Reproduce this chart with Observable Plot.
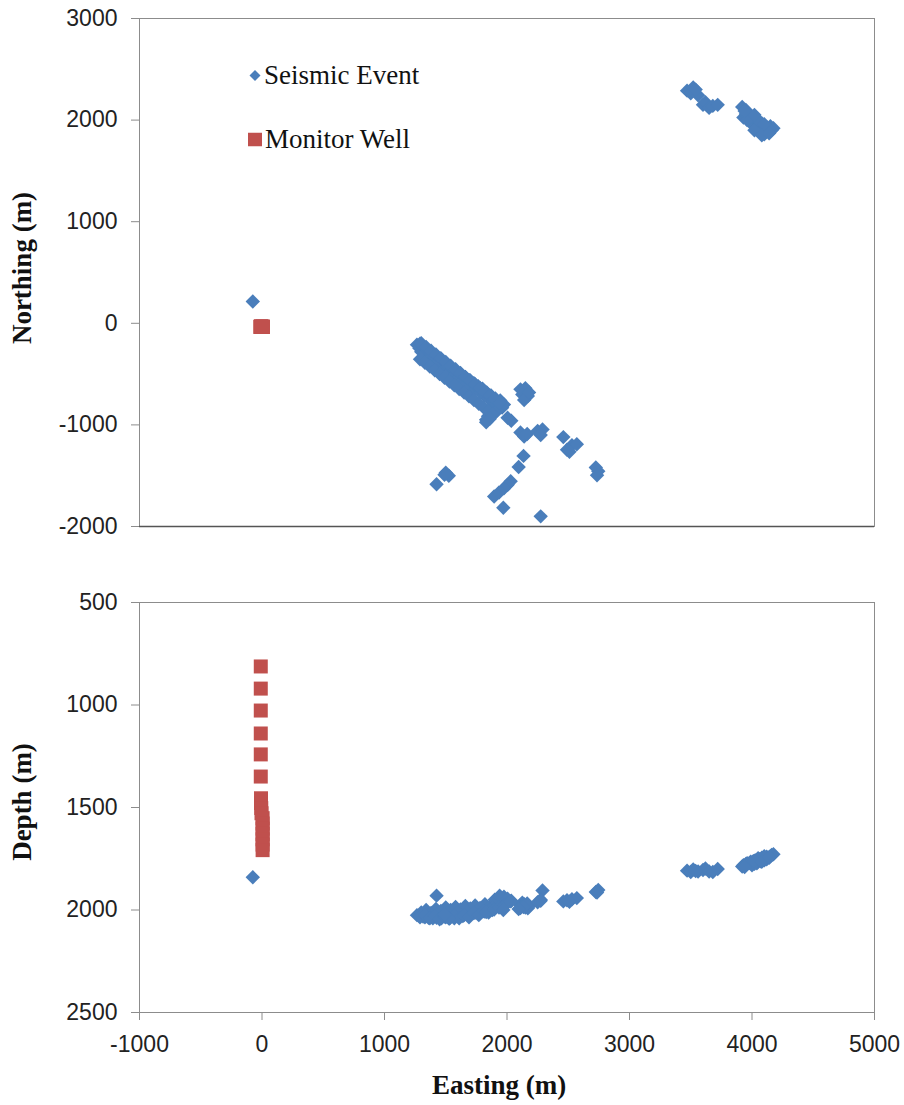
<!DOCTYPE html>
<html>
<head>
<meta charset="utf-8">
<script src="https://cdn.jsdelivr.net/npm/d3@7"></script>
<script src="https://cdn.jsdelivr.net/npm/@observablehq/plot@0.6"></script>
<style>
  html, body { margin: 0; padding: 0; background: #fff; }
  #figure { position: relative; width: 904px; height: 1105px; overflow: hidden; }
  #figure svg { display: block; }
  .axis-title {
    position: absolute;
    font-family: "Liberation Serif", "Times New Roman", serif;
    font-weight: bold;
    font-size: 27px;
    color: #111;
    white-space: nowrap;
    line-height: 1;
  }
  .axis-title.vertical { transform: translate(-50%, -50%) rotate(-90deg); }
  .axis-title.horizontal { transform: translate(-50%, -50%); }
  .legend-item {
    position: absolute;
    display: flex;
    align-items: center;
    font-family: "Liberation Serif", "Times New Roman", serif;
    font-size: 27px;
    color: #111;
    white-space: nowrap;
    line-height: 1;
    transform: translateY(-50%);
  }
  .legend-item svg { margin-right: 3px; }
</style>
</head>
<body>
<div id="figure"></div>
<script>
// Microseismic events: [easting (m), northing (m), depth (m)]
const nearWellEvents = [
  [-75, 215, 1840]
];

const mainBandEvents = [
  [1265, -210, 2025], [1285, -245, 2030], [1300, -280, 2020], [1315, -230, 2032],
  [1330, -300, 2035], [1345, -265, 2015], [1360, -340, 2038], [1380, -310, 2022],
  [1395, -370, 2040], [1410, -335, 2012], [1425, -400, 2038], [1445, -370, 2025],
  [1465, -430, 2040], [1480, -395, 2010], [1500, -455, 2036], [1515, -420, 2020],
  [1535, -480, 2038], [1550, -445, 2005], [1570, -510, 2040], [1590, -475, 2018],
  [1605, -540, 2035], [1625, -505, 2008], [1640, -565, 2030], [1660, -530, 2000],
  [1675, -595, 2022], [1695, -560, 2005], [1710, -625, 2015], [1730, -590, 1995],
  [1745, -650, 2012], [1765, -620, 1998], [1780, -680, 2010], [1800, -645, 1992],
  [1815, -710, 2008], [1835, -680, 1990], [1850, -740, 2005], [1870, -710, 1985],
  [1885, -770, 1995], [1905, -740, 1965], [1925, -790, 1975], [1945, -760, 1940],
  [1960, -830, 1955], [1975, -800, 1935], [1880, -820, 2000], [1860, -870, 1995],
  [1845, -915, 2005], [1830, -950, 1998], [1900, -880, 1980], [1920, -860, 1960],
  [1290, -200, 2028], [1340, -250, 2030],
  // north edge of the band
  [1300, -197, 2012], [1340, -233, 2000], [1380, -270, 2015], [1420, -307, 1995],
  [1460, -343, 2005], [1500, -380, 1988], [1540, -417, 2000], [1580, -453, 1985],
  [1620, -490, 1998], [1660, -527, 1980], [1700, -563, 1992], [1740, -600, 1978],
  [1780, -636, 1990], [1820, -673, 1972], [1860, -710, 1985], [1900, -746, 1950],
  [1940, -783, 1930],
  // south edge of the band
  [1290, -353, 2035], [1330, -389, 2025], [1370, -426, 2040], [1410, -463, 2030],
  [1450, -499, 2045], [1490, -536, 2032], [1530, -572, 2042], [1570, -609, 2028],
  [1610, -646, 2040], [1650, -682, 2025], [1690, -719, 2035], [1730, -756, 2015],
  [1770, -792, 2025], [1810, -829, 2005], [1850, -866, 2012], [1880, -895, 1990],
  [1860, -940, 2000], [1830, -975, 2010]
];

const southScatterEvents = [
  [2110, -650, 1975], [2150, -640, 1988], [2125, -700, 1965], [2170, -715, 1992],
  [2140, -755, 1972], [2180, -680, 1982], [2035, -960, 1955], [2005, -930, 1945],
  [2110, -1075, 1990], [2140, -1115, 1978], [2165, -1090, 1968], [2250, -1060, 1962],
  [2290, -1045, 1905], [2275, -1100, 1950], [2460, -1120, 1958], [2490, -1245, 1952],
  [2530, -1200, 1948], [2570, -1190, 1942], [2510, -1265, 1960], [2725, -1420, 1912],
  [2745, -1455, 1902], [2735, -1495, 1915], [2135, -1305, 1985], [2095, -1415, 1995],
  [1425, -1585, 1930], [1500, -1470, 2030], [1525, -1500, 2040], [1490, -1490, 2022],
  [1895, -1705, 1998], [1935, -1665, 1988], [1975, -1625, 1978], [2005, -1590, 1965],
  [2030, -1555, 1958], [1970, -1815, 2000], [2275, -1900, 1955]
];

const northeastEvents = [
  [3470, 2290, 1808], [3520, 2320, 1802], [3500, 2265, 1815], [3560, 2245, 1812],
  [3600, 2150, 1805], [3620, 2175, 1798], [3650, 2120, 1812], [3680, 2140, 1815],
  [3720, 2150, 1800], [3920, 2130, 1788], [3930, 2025, 1782], [3950, 2060, 1775],
  [3980, 2000, 1770], [4000, 1960, 1782], [4010, 1990, 1762], [4030, 2010, 1758],
  [4040, 1930, 1772], [4060, 1960, 1752], [4070, 1880, 1762], [4080, 1970, 1745],
  [4090, 1910, 1748], [4100, 1860, 1758], [4120, 1930, 1740], [4120, 1890, 1752],
  [4150, 1940, 1738], [4160, 1900, 1732], [4175, 1920, 1728], [3540, 2300, 1810],
  [3950, 2100, 1780], [3990, 2040, 1765], [4020, 1900, 1775], [4050, 2000, 1748],
  [4140, 1910, 1745], [4100, 1960, 1738], [3960, 2000, 1772], [4020, 2050, 1760],
  [4080, 1850, 1765], [4140, 1870, 1742], [3940, 2090, 1790]
];

// Monitor well geophone stations
const wellEasting  = [-10, -10, -10, -10, -10, -10, -8, -8, -6, -4, 5, 5, 5, 5, 5, 5, 5];
const wellNorthing = [-35, -35, -35, -35, -35, -35, -35, -35, -35, -35, -35, -35, -35, -35, -35, -35, -35];
const wellDepth    = [812, 920, 1027, 1139, 1241, 1349, 1455, 1478, 1503, 1528, 1552, 1578, 1603, 1629, 1655, 1681, 1708];

// Axis ticks
const eastingTicks  = [-1000, 0, 1000, 2000, 3000, 4000, 5000];
const northingTicks = [-2000, -1000, 0, 1000, 2000, 3000];
const depthTicks    = [500, 1000, 1500, 2000, 2500];

const eventBlue = "#4a7ebb";
const wellRed = "#c0504d";
const frameGray = "#8c8c8c";
const tickFont = {
  fontFamily: '"Liberation Sans", Arial, sans-serif',
  fontSize: "23px",
  color: "#222",
  background: "#fff",
  overflow: "visible"
};

const events = [...nearWellEvents, ...mainBandEvents, ...southScatterEvents, ...northeastEvents]
  .map(([easting, northing, depth]) => ({easting, northing, depth}));
const stations = wellDepth.map((depth, i) => ({
  easting: wellEasting[i], northing: wellNorthing[i], depth
}));

const plain = d => String(d);

// Plan view: northing vs easting
const planView = Plot.plot({
  width: 904,
  height: 540,
  marginLeft: 139,
  marginRight: 30,
  marginTop: 18,
  marginBottom: 14,
  style: tickFont,
  x: {domain: [-1000, 5000], axis: null},
  y: {domain: [-2000, 3000]},
  marks: [
    Plot.frame({stroke: frameGray}),
    Plot.ruleY([northingTicks[0]], {stroke: "#555", strokeWidth: 1.5}),
    Plot.axisY({ticks: northingTicks, tickSize: 8, tickPadding: 14, tickFormat: plain,
      stroke: frameGray, fill: "#222", label: null}),
    Plot.dot(stations, {x: "easting", y: "northing", symbol: "square", r: 7.9, fill: wellRed}),
    Plot.dot(events, {x: "easting", y: "northing", symbol: "diamond2", r: 6.5, fill: eventBlue})
  ]
});

// Section view: depth vs easting
const sectionView = Plot.plot({
  width: 904,
  height: 565,
  marginLeft: 139,
  marginRight: 30,
  marginTop: 62,
  marginBottom: 93,
  style: tickFont,
  x: {domain: [-1000, 5000]},
  y: {domain: [500, 2500], reverse: true},
  marks: [
    Plot.frame({stroke: frameGray}),
    Plot.axisY({ticks: depthTicks, tickSize: 8, tickPadding: 14, tickFormat: plain,
      stroke: frameGray, fill: "#222", label: null}),
    Plot.axisX({ticks: eastingTicks, tickSize: 8, tickPadding: 15, tickFormat: plain,
      stroke: frameGray, fill: "#222", label: null}),
    Plot.dot(stations, {x: "easting", y: "depth", symbol: "square", r: 7.9, fill: wellRed}),
    Plot.dot(events, {x: "easting", y: "depth", symbol: "diamond2", r: 6.5, fill: eventBlue})
  ]
});

const figure = document.getElementById("figure");
figure.append(planView, sectionView);

function addTitle(text, cls, left, top) {
  const el = document.createElement("div");
  el.className = "axis-title " + cls;
  el.textContent = text;
  el.style.left = left + "px";
  el.style.top = top + "px";
  figure.append(el);
}
addTitle("Northing (m)", "vertical", 22, 268);
addTitle("Depth  (m)", "vertical", 22, 802);
addTitle("Easting (m)", "horizontal", 499, 1085);

// Legend placed inside the plan view
function addLegend(label, symbolSvg, left, top) {
  const el = document.createElement("div");
  el.className = "legend-item";
  el.style.left = left + "px";
  el.style.top = top + "px";
  el.innerHTML = symbolSvg + "<span>" + label + "</span>";
  figure.append(el);
}
addLegend("Seismic Event",
  `<svg width="12" height="12" viewBox="-6 -6 12 12"><path d="M0,-5.5L5.5,0L0,5.5L-5.5,0Z" fill="${eventBlue}"/></svg>`,
  249, 75);
addLegend("Monitor Well",
  `<svg width="14" height="14" viewBox="0 0 14 14"><rect width="14" height="14" fill="${wellRed}"/></svg>`,
  248, 139);
</script>
</body>
</html>
